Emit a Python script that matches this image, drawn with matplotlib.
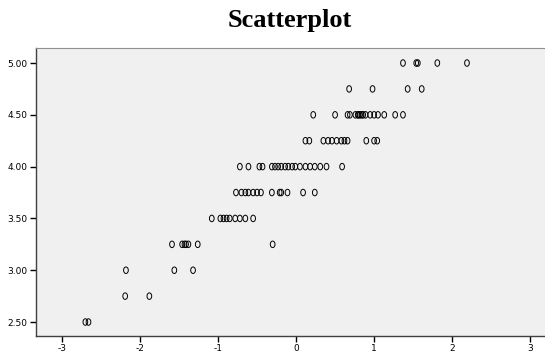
import matplotlib.pyplot as plt
from matplotlib.markers import MarkerStyle
from matplotlib.transforms import Affine2D
import numpy as np

# x positions, grouped by y level
y_levels = [5.00, 4.75, 4.50, 4.25, 4.00, 3.75, 3.50, 3.25, 3.00, 2.75, 2.50]
x_500 = [1.37, 1.54, 1.56, 1.81, 2.19]
x_475 = [0.68, 0.98, 1.43, 1.61]
x_450 = [0.22, 0.50, 0.66, 0.69, 0.76, 0.79, 0.80, 0.82, 0.84, 0.86, 0.89,
         0.95, 1.00, 1.05, 1.13, 1.27, 1.37]
x_425 = [0.12, 0.17, 0.35, 0.41, 0.46, 0.52, 0.58, 0.62, 0.66, 0.90, 1.00, 1.04]
x_400 = [-0.72, -0.61, -0.47, -0.43, -0.31, -0.27, -0.23, -0.19, -0.14, -0.10,
         -0.05, -0.01, 0.05, 0.12, 0.18, 0.24, 0.31, 0.39, 0.59]
x_375 = [-0.77, -0.70, -0.65, -0.61, -0.55, -0.50, -0.45, -0.31, -0.21, -0.19,
         -0.11, 0.09, 0.24]
x_350 = [-1.08, -0.97, -0.93, -0.89, -0.85, -0.78, -0.72, -0.65, -0.55]
x_325 = [-1.59, -1.46, -1.43, -1.41, -1.38, -1.26, -0.30]
x_300 = [-2.18, -1.56, -1.32]
x_275 = [-2.19, -1.88]
x_250 = [-2.70, -2.66]
rows = [x_500, x_475, x_450, x_425, x_400, x_375, x_350, x_325, x_300, x_275, x_250]

x_ticks = [-3, -2, -1, 0, 1, 2, 3]
y_ticks = [2.50, 3.00, 3.50, 4.00, 4.50, 5.00]

xs = np.concatenate([np.array(r) for r in rows])
ys = np.concatenate([np.full(len(r), y) for r, y in zip(rows, y_levels)])

fig = plt.figure(figsize=(5.45, 3.54), dpi=100)
ax = fig.add_axes([0.066, 0.0508, 0.934, 0.8136])
ax.set_facecolor('#f0f0f0')

# SPSS style markers are slightly tall ovals
oval = MarkerStyle('o', transform=Affine2D().scale(0.72, 1.0))
ax.scatter(xs, ys, s=22, marker=oval, facecolors='none', edgecolors='black',
           linewidths=0.7)

ax.set_xlim(-3.333, 3.19)
ax.set_ylim(2.365, 5.145)
ax.set_xticks(x_ticks)
ax.set_xticklabels([str(t) for t in x_ticks])
ax.set_yticks(y_ticks)
ax.set_yticklabels(['%.2f' % t for t in y_ticks])
ax.tick_params(axis='both', direction='out', length=4, width=1, labelsize=6.5,
               pad=2, colors='black')

ax.spines['right'].set_visible(False)
ax.spines['top'].set_color('#909090')
ax.spines['left'].set_linewidth(1)
ax.spines['bottom'].set_linewidth(1)
ax.spines['bottom'].set_color('#404040')
ax.spines['left'].set_color('#404040')

fig.text(0.532, 0.943, 'Scatterplot', ha='center', va='center',
         fontsize=19, fontweight='bold', family='Liberation Serif')

fig.savefig('out.png', dpi=100)
